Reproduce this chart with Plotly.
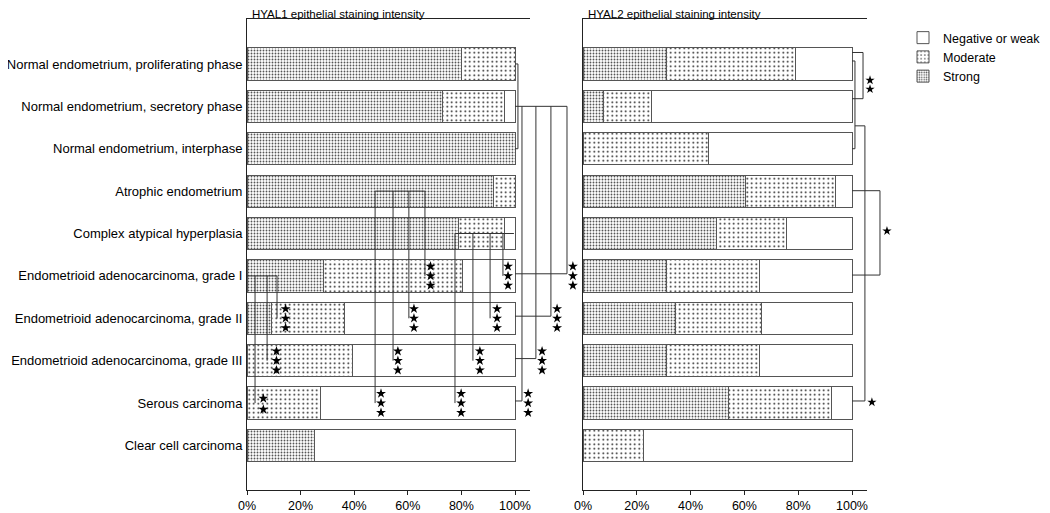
import plotly.graph_objects as go

# ---------------- data ----------------
categories = [
    "Normal endometrium, proliferating phase",
    "Normal endometrium, secretory phase",
    "Normal endometrium, interphase",
    "Atrophic endometrium",
    "Complex atypical hyperplasia",
    "Endometrioid adenocarcinoma, grade I",
    "Endometrioid adenocarcinoma, grade II",
    "Endometrioid adenocarcinoma, grade III",
    "Serous carcinoma",
    "Clear cell carcinoma",
]
rows = list(range(len(categories)))

hyal1_strong = [80, 73, 100, 92, 79, 28.5, 9, 0, 0, 25]
hyal1_moderate = [20, 23, 0, 8, 17, 52, 27.5, 39.5, 27.5, 0]
hyal1_negative = [0, 4, 0, 0, 4, 19.5, 63.5, 60.5, 72.5, 75]

hyal2_strong = [31, 7.5, 0, 60.5, 49.5, 31, 34.5, 31, 54, 0]
hyal2_moderate = [48, 18, 46.5, 33.5, 26, 34.5, 32, 34.5, 38.5, 22.5]
hyal2_negative = [21, 74.5, 53.5, 6, 24.5, 34.5, 33.5, 34.5, 7.5, 77.5]

x_tick_values = [0, 20, 40, 60, 80, 100]
x_tick_labels = ["0%", "20%", "40%", "60%", "80%", "100%"]

panel_titles = ["HYAL1 epithelial staining intensity", "HYAL2 epithelial staining intensity"]
series_names = ["Strong", "Moderate", "Negative or weak"]

# HYAL1 significance: groups of comparisons drawn inside the bars
# (source row, line start %, line end %, [(target row, vertical %, n stars, star %)])
hyal1_inner = [
    (5, 0, 11.2, [(6, 11.2, 3, 14.4), (7, 7.5, 3, 11.0), (8, 3.0, 2, 6.1)]),
    (3, 47.8, 66.4, [(5, 66.4, 3, 68.5), (6, 60.4, 3, 62.3), (7, 54.5, 3, 56.3), (8, 47.8, 3, 50.0)]),
    (4, 77.6, 99.6, [(5, 95.5, 3, 97.4), (6, 90.7, 3, 93.3), (7, 84.3, 3, 86.9), (8, 77.6, 3, 79.9)]),
]
# HYAL1 normal-endometrium group (rows 0-2) vs carcinomas, drawn outside the bars
hyal1_outer_group = (0, 2, 101.1, 1)
hyal1_outer_targets = [(5, 119.4, 3, 121.6), (6, 113.4, 3, 115.7), (7, 107.8, 3, 110.1), (8, 102.6, 3, 104.9)]

# HYAL2 brackets: (row a, row b, bracket %, star %, star row, n stars)
hyal2_brackets = [
    (-0.27, 0.82, 104.1, 106.7, 0.49, 2),
    (-0.07, 2.0, 101.1, None, None, 0),
    (2.99, 4.98, 110.4, 113.0, 3.94, 1),
]
# HYAL2 normal group (from bracket at 101.1, row 1.46) vs serous carcinoma
hyal2_group_link = (1.46, 101.1, 104.8, 7.95, 107.4, 7.98, 1)

# ---------------- styles ----------------
FONT = "Liberation Sans, Arial, sans-serif"
AX = "#222222"
LINE = "#333333"
BAR_EDGE = "#555555"
OFF = 8                      # page body margin
W, H = 1050 - OFF, 513 - OFF
MT, MB = 19 - OFF, 23
PH = H - MT - MB

patterns = {
    "Strong": dict(shape=".", size=3, solidity=0.3, fgcolor="#555555", bgcolor="white", fillmode="replace"),
    "Moderate": dict(shape=".", size=4.5, solidity=0.12, fgcolor="#111111", bgcolor="white", fillmode="replace"),
    "Negative or weak": dict(shape="", bgcolor="white", fgcolor="white", fillmode="replace"),
}

fig = go.Figure()


def add_bars(values, xa, ya, show):
    for name, vals in zip(series_names, values):
        fig.add_trace(go.Bar(
            y=rows, x=vals, orientation="h", name=name,
            marker=dict(color="white", line=dict(color=BAR_EDGE, width=1), pattern=patterns[name]),
            xaxis=xa, yaxis=ya, showlegend=show, hoverinfo="x+y",
        ))


add_bars([hyal1_strong, hyal1_moderate, hyal1_negative], "x", "y", True)
add_bars([hyal2_strong, hyal2_moderate, hyal2_negative], "x2", "y2", False)

# empty traces so that the visible percentage axes get drawn
fig.add_trace(go.Scatter(x=[], y=[], xaxis="x3", yaxis="y", showlegend=False, hoverinfo="skip"))
fig.add_trace(go.Scatter(x=[], y=[], xaxis="x4", yaxis="y2", showlegend=False, hoverinfo="skip"))

shapes = []


def seg(xa, ya, x0, y0, x1, y1):
    shapes.append(dict(type="line", xref=xa, yref=ya, x0=x0, y0=y0, x1=x1, y1=y1,
                       line=dict(color=LINE, width=1)))


star_x, star_y, star_x2, star_y2 = [], [], [], []


def stars(lx, ly, x, yc, n, spacing):
    offs = {1: [0], 2: [-spacing / 2, spacing / 2], 3: [-spacing, 0, spacing]}[n]
    for o in offs:
        lx.append(x)
        ly.append(yc + o)


# HYAL1 inner groups
for src, xs, xe, targets in hyal1_inner:
    seg("x", "y", xs, src, xe, src)
    for tr, vx, n, sx in targets:
        seg("x", "y", vx, src, vx, tr)
        stars(star_x, star_y, sx, tr + (0.02 if n == 2 else 0), n, 0.26 if n == 2 else 0.225)

# HYAL1 outer group
ra, rb, bx, src = hyal1_outer_group
seg("x", "y", 100, ra, bx, ra)
seg("x", "y", bx, ra, bx, rb)
seg("x", "y", 100, rb, bx, rb)
far = max(t[1] for t in hyal1_outer_targets)
seg("x", "y", 100, src, far, src)
for tr, vx, n, sx in hyal1_outer_targets:
    seg("x", "y", vx, src, vx, tr - 0.05)
    seg("x", "y", 100, tr - 0.05, vx, tr - 0.05)
    stars(star_x, star_y, sx, tr, n, 0.225)

# HYAL2 brackets
for ya_, yb_, bx, sx, sy, n in hyal2_brackets:
    seg("x2", "y2", 100, ya_, bx, ya_)
    seg("x2", "y2", bx, ya_, bx, yb_)
    seg("x2", "y2", 100, yb_, bx, yb_)
    if n:
        stars(star_x2, star_y2, sx, sy, n, 0.21)

ly, lx0, lx1, ty, sx, sy, n = hyal2_group_link
seg("x2", "y2", lx0, ly, lx1, ly)
seg("x2", "y2", lx1, ly, lx1, ty)
seg("x2", "y2", 100, ty, lx1, ty)
stars(star_x2, star_y2, sx, sy, n, 0.21)

fig.add_trace(go.Scatter(x=star_x, y=star_y, mode="markers", xaxis="x", yaxis="y",
                         marker=dict(symbol="star", size=7.5, color="black", line=dict(width=0)),
                         showlegend=False, hoverinfo="skip", cliponaxis=False))
fig.add_trace(go.Scatter(x=star_x2, y=star_y2, mode="markers", xaxis="x2", yaxis="y2",
                         marker=dict(symbol="star", size=7, color="black", line=dict(width=0)),
                         showlegend=False, hoverinfo="skip", cliponaxis=False))


def px(p):
    # screen pixel -> paper fraction (figure is offset by the page margin)
    return (p - OFF) / W


# screen-pixel geometry
L0, L100 = 247, 515
R0, R100 = 583, 852
lscale = (L100 - L0) / 100
rscale = (R100 - R0) / 100
L_END, R_END = 579, 893
L_AX_END, R_AX_END = 529.5, 867
y_range = [10.05, -1.06]

hidden_x = dict(showline=False, showticklabels=False, ticks="", showgrid=False, zeroline=False,
                fixedrange=True, automargin=False)
shown_x = dict(showline=True, linecolor=AX, linewidth=1, mirror=True, ticks="outside", ticklen=4,
               tickcolor=AX, tickvals=x_tick_values, ticktext=x_tick_labels, showgrid=False,
               zeroline=False, automargin=False, tickfont=dict(family=FONT, size=12.5, color="black"))

fig.update_layout(
    template="none",
    width=W, height=H,
    margin=dict(l=0, r=0, t=MT, b=MB, autoexpand=False),
    paper_bgcolor="white", plot_bgcolor="rgba(0,0,0,0)",
    barmode="stack", bargap=0.24,
    font=dict(family=FONT, size=13, color="black"),
    xaxis=dict(domain=[px(L0), px(L_END)], range=[0, (L_END - L0) / lscale], anchor="y", **hidden_x),
    xaxis3=dict(domain=[px(L0), px(L_AX_END)], range=[0, (L_AX_END - L0) / lscale], anchor="y", **shown_x),
    xaxis2=dict(domain=[px(R0), px(R_END)], range=[0, (R_END - R0) / rscale], anchor="y2", **hidden_x),
    xaxis4=dict(domain=[px(R0), px(R_AX_END)], range=[0, (R_AX_END - R0) / rscale], anchor="y2", **shown_x),
    yaxis=dict(domain=[0, 1], range=y_range, anchor="x", tickvals=rows, ticktext=categories,
               showline=True, linecolor=AX, linewidth=1, ticks="outside", ticklen=1,
               tickcolor="rgba(0,0,0,0)", showgrid=False, zeroline=False, automargin=False,
               tickfont=dict(family=FONT, size=13, color="black")),
    yaxis2=dict(domain=[0, 1], range=y_range, anchor="x2", showticklabels=False, automargin=False,
                showline=True, linecolor=AX, linewidth=1, ticks="", showgrid=False, zeroline=False),
    legend=dict(x=px(903), y=1 - 4 / PH, xanchor="left", yanchor="top",
                traceorder="reversed", font=dict(family=FONT, size=12.5, color="black"),
                bgcolor="rgba(0,0,0,0)", borderwidth=0, itemwidth=30),
    shapes=shapes,
    annotations=[
        dict(text=panel_titles[0], xref="paper", yref="paper", x=px(250), y=1 - 3 / PH,
             xanchor="left", yanchor="bottom", showarrow=False, font=dict(family=FONT, size=11.5)),
        dict(text=panel_titles[1], xref="paper", yref="paper", x=px(586), y=1 - 3 / PH,
             xanchor="left", yanchor="bottom", showarrow=False, font=dict(family=FONT, size=11.5)),
    ],
)

fig.write_html("out.html")
